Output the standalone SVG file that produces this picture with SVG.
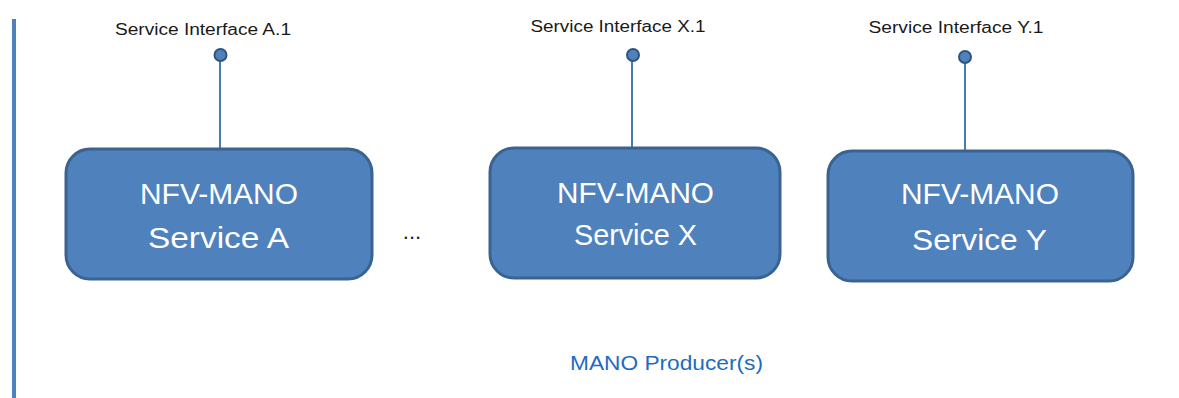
<svg xmlns="http://www.w3.org/2000/svg" width="1179" height="398" viewBox="0 0 1179 398">
<style>
.box{fill:#4f81bd;stroke:#3a6390;stroke-width:3}
.bt{font-family:"Liberation Sans",Arial,sans-serif;font-size:29px;fill:#ffffff;text-anchor:middle}
.lbl{font-family:"Liberation Sans",Arial,sans-serif;font-size:16px;fill:#1a1a1a;text-anchor:middle}
.pin{fill:#4f81bd;stroke:#2f5480;stroke-width:2}
.conn{stroke:#4a7ab5;stroke-width:2;fill:none}
</style>
<rect width="1179" height="398" fill="#ffffff"/>
<rect x="12" y="19" width="4" height="379" fill="#4f81bd"/>
<g id="connectors">
<line class="conn" x1="220" y1="60" x2="220" y2="148"/>
<line class="conn" x1="632" y1="60" x2="632" y2="147"/>
<line class="conn" x1="965" y1="62" x2="965" y2="150"/>
</g>
<g id="ifA">
<circle class="pin" cx="220.5" cy="55" r="6"/>
<text class="lbl" x="203" y="35" textLength="176" lengthAdjust="spacingAndGlyphs">Service Interface A.1</text>
</g>
<g id="ifX">
<circle class="pin" cx="633" cy="55" r="6"/>
<text class="lbl" x="618" y="32" textLength="175" lengthAdjust="spacingAndGlyphs">Service Interface X.1</text>
</g>
<g id="ifY">
<circle class="pin" cx="965" cy="57" r="6"/>
<text class="lbl" x="956" y="33" textLength="175" lengthAdjust="spacingAndGlyphs">Service Interface Y.1</text>
</g>
<g id="serviceA">
<rect class="box" x="66" y="149" width="306" height="130" rx="24"/>
<text class="bt" x="219" y="204" textLength="158" lengthAdjust="spacingAndGlyphs">NFV-MANO</text>
<text class="bt" x="218.5" y="248" textLength="141" lengthAdjust="spacingAndGlyphs">Service A</text>
</g>
<g id="ellipsis">
<text x="412" y="239" font-family="Liberation Sans,Arial,sans-serif" font-size="22" fill="#1a1a1a" text-anchor="middle">...</text>
</g>
<g id="serviceX">
<rect class="box" x="490" y="148" width="290" height="130" rx="24"/>
<text class="bt" x="635.5" y="203" textLength="157" lengthAdjust="spacingAndGlyphs">NFV-MANO</text>
<text class="bt" x="635.5" y="245" textLength="123" lengthAdjust="spacingAndGlyphs">Service X</text>
</g>
<g id="serviceY">
<rect class="box" x="828" y="151" width="305" height="130" rx="24"/>
<text class="bt" x="980" y="204" textLength="158" lengthAdjust="spacingAndGlyphs">NFV-MANO</text>
<text class="bt" x="979.5" y="250" textLength="135" lengthAdjust="spacingAndGlyphs">Service Y</text>
</g>
<g id="producer">
<text x="666.5" y="370" font-family="Liberation Sans,Arial,sans-serif" font-size="20" fill="#1e6cc0" text-anchor="middle" textLength="193" lengthAdjust="spacingAndGlyphs">MANO Producer(s)</text>
</g>
</svg>
